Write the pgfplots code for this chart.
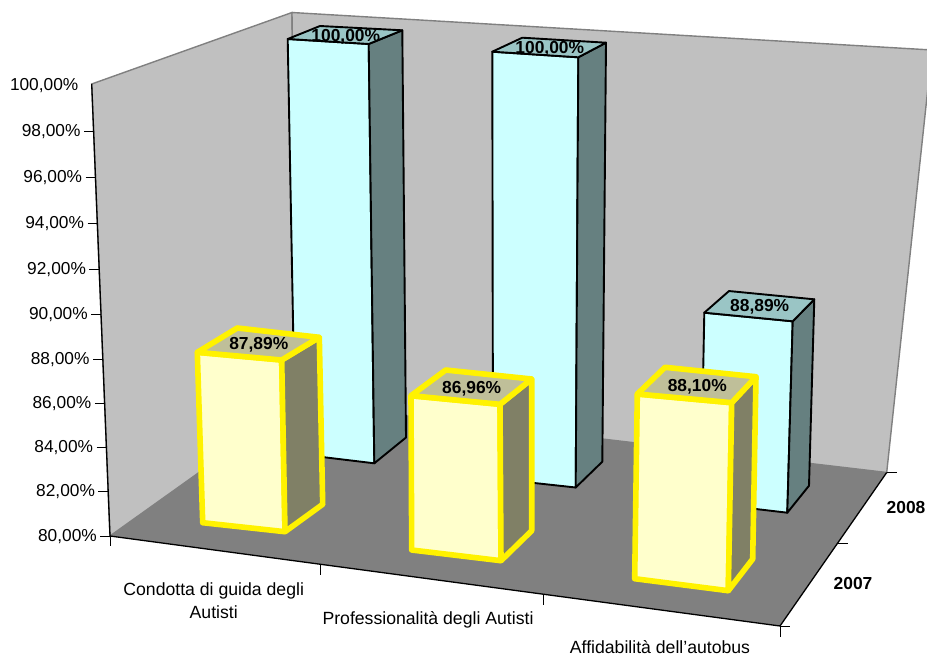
\documentclass[border=0pt]{standalone}
\usepackage{pgfplots}
\pgfplotsset{compat=1.18}
\usepackage{fontspec}
\setmainfont{Liberation Sans}

\definecolor{wallfill}{HTML}{C0C0C0}
\definecolor{wallline}{HTML}{808080}
\definecolor{floorfill}{HTML}{808080}
\definecolor{cyanfront}{HTML}{CCFFFF}
\definecolor{cyantop}{HTML}{9AC5C5}
\definecolor{cyanside}{HTML}{668080}
\definecolor{yellowfront}{HTML}{FFFFCC}
\definecolor{yellowtop}{HTML}{BFBF99}
\definecolor{yellowside}{HTML}{808066}

% A vertical bar edge runs from its foot on the floor (value 80) to its
% full-scale point (value 100), both given in projected chart coordinates.
\newcommand{\setcorner}[5]{%
  \pgfmathsetmacro{\tmpx}{#2+(#4-#2)*(\barvalue-80)/20}%
  \pgfmathsetmacro{\tmpy}{#3+(#5-#3)*(\barvalue-80)/20}%
  \expandafter\let\csname x#1\endcsname\tmpx
  \expandafter\let\csname y#1\endcsname\tmpy
  \expandafter\def\csname bx#1\endcsname{#2}%
  \expandafter\def\csname by#1\endcsname{#3}%
}
% Front, side and top faces of one column: colours, then the outline style.
\newcommand{\drawcolumn}[4]{%
  \addplot[fill=#1,#4] coordinates {(\bxFL,\byFL) (\bxFR,\byFR) (\xFR,\yFR) (\xFL,\yFL)} --cycle;
  \addplot[fill=#2,#4] coordinates {(\bxFR,\byFR) (\bxBR,\byBR) (\xBR,\yBR) (\xFR,\yFR)} --cycle;
  \addplot[fill=#3,#4] coordinates {(\xFL,\yFL) (\xFR,\yFR) (\xBR,\yBR) (\xBL,\yBL)} --cycle;
}
\tikzset{
  cyanbar/.style={draw=black,line width=1.9pt,line join=round},
  yellowbar/.style={draw=yellow,line width=5.6pt,line join=round},
  ticktext/.style={font=\fontsize{17.3}{21}\selectfont,text=black,inner sep=0pt},
  cattext/.style={font=\fontsize{17.65}{21}\selectfont,text=black,inner sep=0pt},
  boldtext/.style={font=\fontsize{17.4}{21}\selectfont\bfseries,text=black,inner sep=0pt},
}

\begin{document}
\begin{tikzpicture}
\useasboundingbox (0,0) rectangle (927pt,656pt);
\begin{axis}[
  scale only axis,
  width=927pt,height=656pt,
  xmin=0,xmax=927,ymin=0,ymax=656,
  y dir=reverse,
  hide axis,
  clip=false,
]
% Walls and floor
\addplot[fill=wallfill,draw=wallline,line width=1.4pt] coordinates {(91.7,84) (292,12.5) (296.5,403) (110,536)} --cycle;
\addplot[fill=wallfill,draw=wallline,line width=1.4pt] coordinates {(292,12.5) (932,50) (886.7,472.5) (296.5,403)} --cycle;
\addplot[fill=floorfill,draw=none] coordinates {(110,536) (296.5,403) (886.7,472.5) (780,626)} --cycle;
% Front edges of the box
\addplot[black,line width=1.3pt] coordinates {(91.7,84) (110,536) (780,626) (886.7,472.5)};
% Value-axis ticks
\addplot[black,line width=1pt] coordinates {(84,131) (93.6,131)};
\addplot[black,line width=1pt] coordinates {(85.6,177) (95.6,177)};
\addplot[black,line width=1pt] coordinates {(87.5,223) (97.5,223)};
\addplot[black,line width=1pt] coordinates {(89.4,269) (99.4,269)};
\addplot[black,line width=1pt] coordinates {(91.2,314) (101.2,314)};
\addplot[black,line width=1pt] coordinates {(93,359) (103,359)};
\addplot[black,line width=1pt] coordinates {(94.8,403) (104.8,403)};
\addplot[black,line width=1pt] coordinates {(96.6,447) (106.6,447)};
\addplot[black,line width=1pt] coordinates {(98.4,491) (108.4,491)};
\addplot[black,line width=1pt] coordinates {(100,536) (110,536)};
% Category ticks
\addplot[black,line width=1pt] coordinates {(110,536) (110,546)};
\addplot[black,line width=1pt] coordinates {(320.7,565) (320.7,575)};
\addplot[black,line width=1pt] coordinates {(543.3,595) (543.3,605)};
\addplot[black,line width=1pt] coordinates {(780,626) (780,637)};
% Series ticks
\addplot[black,line width=1pt] coordinates {(780,626) (790,626)};
\addplot[black,line width=1pt] coordinates {(838,543) (848,543)};
\addplot[black,line width=1pt] coordinates {(887,472.5) (897,472.5)};

% 2008 series
\def\barvalue{100}
\setcorner{FL}{295.5}{453.8}{287.7}{39}
\setcorner{FR}{374.3}{463.3}{368.7}{44}
\setcorner{BR}{406}{437.5}{402.3}{30.3}
\setcorner{BL}{327.2}{428}{320}{26}
\drawcolumn{cyanfront}{cyanside}{cyantop}{cyanbar}
\def\barvalue{100}
\setcorner{FL}{493}{478.5}{492.3}{51.7}
\setcorner{FR}{575.7}{487.5}{578.3}{57.3}
\setcorner{BR}{602.3}{461.7}{606}{42.7}
\setcorner{BL}{519.6}{452.7}{522.3}{37.7}
\drawcolumn{cyanfront}{cyanside}{cyantop}{cyanbar}
\def\barvalue{88.89}
\setcorner{FL}{700.7}{502.5}{708.8}{75.5}
\setcorner{FR}{787.3}{512.7}{799.45}{82.1}
\setcorner{BR}{809}{485.7}{820.9}{66.4}
\setcorner{BL}{722.4}{475.5}{737.25}{60.5}
\drawcolumn{cyanfront}{cyanside}{cyantop}{cyanbar}

% 2007 series
\def\barvalue{87.89}
\setcorner{FL}{202.7}{522.7}{189}{90.8}
\setcorner{FR}{285}{531.7}{276.6}{96.5}
\setcorner{BR}{322.7}{504.3}{314.1}{81}
\setcorner{BL}{240.4}{495.3}{232.5}{71.2}
\drawcolumn{yellowfront}{yellowside}{yellowtop}{yellowbar}
\def\barvalue{86.96}
\setcorner{FL}{411.7}{550}{409.7}{106.6}
\setcorner{FR}{501}{560.7}{498.1}{111.3}
\setcorner{BR}{531.7}{530.7}{531.7}{94.8}
\setcorner{BL}{442.4}{520}{451.9}{89}
\drawcolumn{yellowfront}{yellowside}{yellowtop}{yellowbar}
\def\barvalue{88.10}
\setcorner{FL}{634.7}{578.7}{641.1}{122.7}
\setcorner{FR}{728.3}{590.7}{736.7}{126.5}
\setcorner{BR}{752.7}{559}{760.85}{108.9}
\setcorner{BL}{659.1}{547}{673.7}{103.3}
\drawcolumn{yellowfront}{yellowside}{yellowtop}{yellowbar}

% Value-axis labels
\node[ticktext,anchor=east] at (axis cs:78.5,86) {100,00\%};
\node[ticktext,anchor=east] at (axis cs:80.7,132) {98,00\%};
\node[ticktext,anchor=east] at (axis cs:82.3,178) {96,00\%};
\node[ticktext,anchor=east] at (axis cs:84.2,224) {94,00\%};
\node[ticktext,anchor=east] at (axis cs:86.1,270) {92,00\%};
\node[ticktext,anchor=east] at (axis cs:87.9,315) {90,00\%};
\node[ticktext,anchor=east] at (axis cs:89.7,360) {88,00\%};
\node[ticktext,anchor=east] at (axis cs:91.5,404) {86,00\%};
\node[ticktext,anchor=east] at (axis cs:93.3,448) {84,00\%};
\node[ticktext,anchor=east] at (axis cs:95.1,492) {82,00\%};
\node[ticktext,anchor=east] at (axis cs:97,537) {80,00\%};
% Category labels
\node[cattext] at (axis cs:213.7,591) {Condotta di guida degli};
\node[cattext] at (axis cs:213.7,612) {Autisti};
\node[cattext] at (axis cs:428,620) {Professionalità degli Autisti};
\node[cattext] at (axis cs:660,647.5) {Affidabilità dell’autobus};
% Series labels
\node[boldtext] at (axis cs:853,584) {2007};
\node[boldtext] at (axis cs:906,508) {2008};
% Data labels
\node[boldtext] at (axis cs:345.8,36.7) {100,00\%};
\node[boldtext] at (axis cs:549.8,48.7) {100,00\%};
\node[boldtext] at (axis cs:759.7,307) {88,89\%};
\node[boldtext] at (axis cs:258.8,345) {87,89\%};
\node[boldtext] at (axis cs:471.7,388.3) {86,96\%};
\node[boldtext] at (axis cs:697.3,386.3) {88,10\%};
\end{axis}
\end{tikzpicture}
\end{document}
